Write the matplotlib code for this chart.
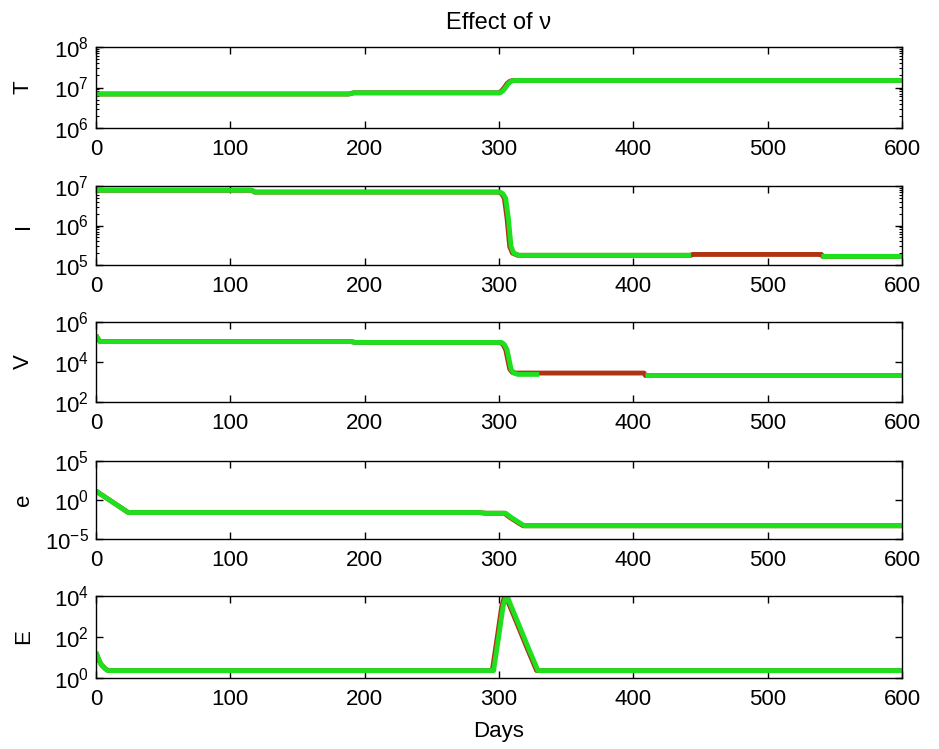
import numpy as np
import matplotlib
matplotlib.use("Agg")
import matplotlib.pyplot as plt
from matplotlib.ticker import LogLocator, NullLocator, NullFormatter

plt.rcParams['font.family'] = ['Liberation Sans', 'DejaVu Sans']
plt.rcParams['mathtext.default'] = 'regular'
plt.rcParams['axes.unicode_minus'] = False

nan = np.nan
GREEN = '#1ee01e'
RED = '#b03212'

# ---- T ----
T_days_g = [0, 188, 192, 301, 303, 305, 307, 309, 311, 600]
T_green = [6.9e6, 6.9e6, 7.4e6, 7.4e6, 8.3e6, 1.0e7, 1.25e7, 1.42e7, 1.49e7, 1.49e7]
T_days_r = [0, 188, 192, 300, 302, 304, 306, 308, 310, 600]
T_red = [6.9e6, 6.9e6, 7.4e6, 7.4e6, 8.3e6, 1.0e7, 1.25e7, 1.42e7, 1.49e7, 1.49e7]

# ---- I ----
I_days_g = [0, 116, 118, 301, 303, 305, 307, 309, 311, 315, 443, 444, 540, 600]
I_green = [7.8e6, 7.8e6, 7.0e6, 7.0e6, 6.3e6, 4.9e6, 1.5e6, 2.9e5, 2.0e5, 1.76e5, 1.76e5, nan, 1.65e5, 1.65e5]
I_days_r = [0, 116, 118, 300, 302, 304, 306, 308, 310, 314, 443, 444, 540, 541, 600]
I_red = [7.8e6, 7.8e6, 7.0e6, 7.0e6, 6.3e6, 4.9e6, 1.5e6, 2.9e5, 2.0e5, 1.76e5, 1.76e5, 1.85e5, 1.85e5, 1.65e5, 1.65e5]

# ---- V ----
V_days_g = [0, 1, 3, 190, 193, 302, 304, 306, 309, 311, 314, 330, 331, 409, 600]
V_green = [2.2e5, 1.6e5, 1.05e5, 1.05e5, 9.5e4, 9.5e4, 7.5e4, 4.1e4, 4.4e3, 2.8e3, 2.4e3, 2.4e3, nan, 2.1e3, 2.1e3]
V_days_r = [0, 1, 3, 190, 193, 301, 303, 305, 308, 310, 313, 330, 331, 408, 409, 600]
V_red = [2.2e5, 1.6e5, 1.05e5, 1.05e5, 9.5e4, 9.5e4, 7.5e4, 4.1e4, 4.4e3, 3.0e3, 2.8e3, 2.8e3, 2.8e3, 2.8e3, 2.1e3, 2.1e3]

# ---- e ----
e_days_g = [0, 24, 285, 290, 305, 309, 312, 316, 319, 600]
e_green = [14, 0.025, 0.025, 0.02, 0.02, 6e-3, 2.8e-3, 1.0e-3, 5e-4, 5e-4]
e_days_r = [0, 24, 285, 290, 304, 308, 311, 315, 318, 600]
e_red = [14, 0.025, 0.025, 0.02, 0.02, 6e-3, 2.8e-3, 1.0e-3, 5e-4, 5e-4]

# ---- E ----
E_days_g = [0, 2, 4, 7, 9, 296, 300, 303, 305, 306, 309, 315, 322, 329, 600]
E_green = [18, 8, 4.4, 2.8, 2.3, 2.3, 130, 3000, 9000, 1e4, 3300, 370, 28, 2.3, 2.3]
E_days_r = [0, 2, 4, 7, 9, 295, 299, 302, 304, 305, 308, 314, 321, 328, 600]
E_red = [18, 8, 4.4, 2.8, 2.3, 2.3, 130, 3000, 9000, 1e4, 3300, 370, 28, 2.3, 2.3]

panels = [
    ('T', T_days_r, T_red, T_days_g, T_green, (1e6, 1e8), None),
    ('I', I_days_r, I_red, I_days_g, I_green, (1e5, 1e7), None),
    ('V', V_days_r, V_red, V_days_g, V_green, (1e2, 1e6), [1e2, 1e4, 1e6]),
    ('e', e_days_r, e_red, e_days_g, e_green, (1e-5, 1e5), [1e-5, 1e0, 1e5]),
    ('E', E_days_r, E_red, E_days_g, E_green, (1e0, 1e4), [1e0, 1e2, 1e4]),
]

# pixel extents (top, bottom) of each panel
extents = [(47, 128), (186, 265), (322, 402), (461, 539), (596, 678)]
W, H = 939, 749
left_px, right_px = 96, 902

fig = plt.figure(figsize=(W / 100, H / 100), dpi=100)
fs = 16
axes = []
for (name, dr, yr, dg, yg, ylim, yt), (top, bot) in zip(panels, extents):
    ax = fig.add_axes([left_px / W, 1 - bot / H, (right_px - left_px) / W, (bot - top) / H])
    ax.semilogy(dr, yr, color=RED, lw=3.5, solid_capstyle='butt')
    ax.semilogy(dg, yg, color=GREEN, lw=3.5, solid_capstyle='butt')
    ax.set_xlim(0, 600)
    ax.set_ylim(*ylim)
    ax.set_xticks(range(0, 601, 100))
    if yt is not None:
        ax.set_yticks(yt)
        ax.yaxis.set_minor_locator(NullLocator())
    else:
        ax.yaxis.set_major_locator(LogLocator(base=10, numticks=10))
        ax.yaxis.set_minor_locator(LogLocator(base=10, subs=np.arange(2, 10), numticks=20))
        ax.yaxis.set_minor_formatter(NullFormatter())
    ax.tick_params(which='both', direction='in', top=True, right=True, colors='black',
                   labelsize=fs)
    ax.tick_params(which='major', length=5, width=1.0)
    ax.tick_params(which='minor', length=2.5, width=0.8)
    ax.tick_params(axis='x', pad=8)
    ax.tick_params(axis='y', pad=5)
    for s in ax.spines.values():
        s.set_linewidth(1.0)
        s.set_color('black')
    ax.set_ylabel(name, fontsize=fs)
    ax.yaxis.set_label_coords(-0.077, 0.5)
    axes.append(ax)

axes[0].set_title('Effect of \u03bd', fontsize=17, pad=13)
axes[-1].set_xlabel('Days', fontsize=fs, labelpad=8)

fig.savefig('out.png', dpi=100, facecolor='white')
